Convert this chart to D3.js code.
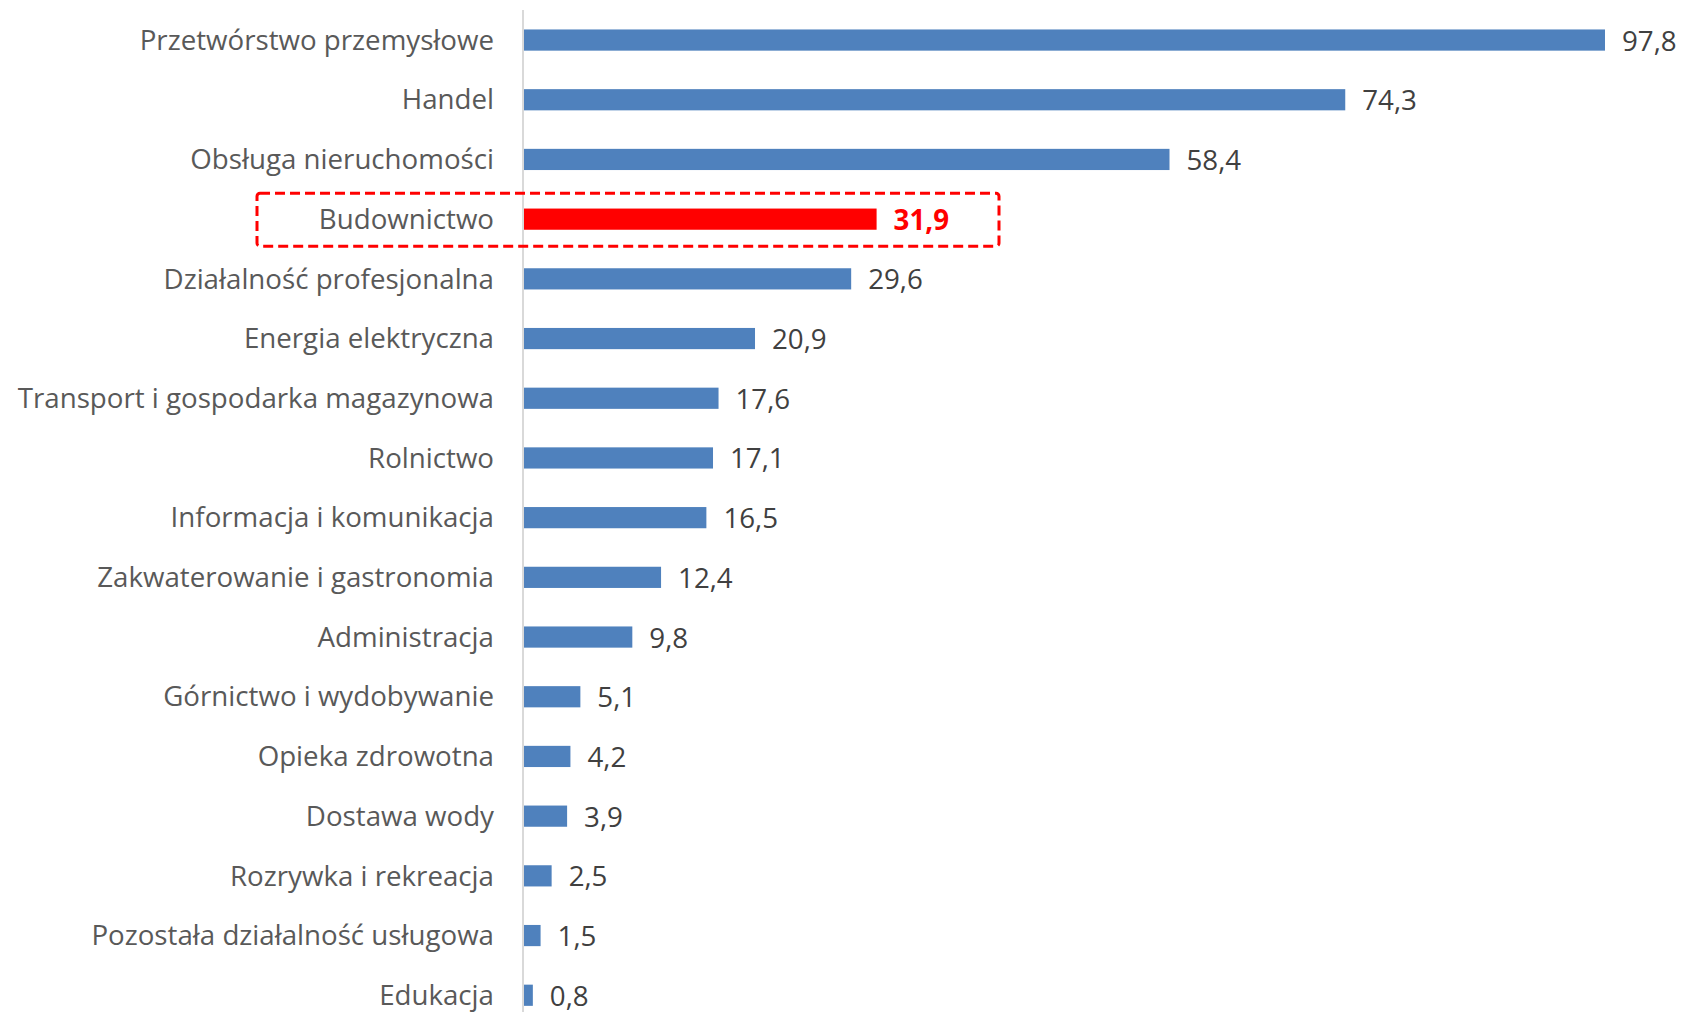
<!DOCTYPE html>
<html><head><meta charset="utf-8">
<script src="https://cdn.jsdelivr.net/npm/d3@7"></script>
<style>html,body{margin:0;padding:0;background:#fff;overflow:hidden}</style>
</head><body>
<svg id="chart" width="1683" height="1012"></svg>
<script>
const categories = ["Przetwórstwo przemysłowe","Handel","Obsługa nieruchomości","Budownictwo","Działalność profesjonalna","Energia elektryczna","Transport i gospodarka magazynowa","Rolnictwo","Informacja i komunikacja","Zakwaterowanie i gastronomia","Administracja","Górnictwo i wydobywanie","Opieka zdrowotna","Dostawa wody","Rozrywka i rekreacja","Pozostała działalność usługowa","Edukacja"];
const values = [97.8,74.3,58.4,31.9,29.6,20.9,17.6,17.1,16.5,12.4,9.8,5.1,4.2,3.9,2.5,1.5,0.8];
const highlighted = ["Budownictwo"];

const svg = d3.select("#chart");
const x0 = 524, yTop = 10.2, step = 59.7;
const x = d3.scaleLinear().domain([0, 97.8]).range([x0, 1605]);
const y = d3.scaleBand().domain(categories).range([yTop, yTop + step*categories.length]).paddingInner(0.645).paddingOuter(0.3225);
const fmt = v => d3.format(".1f")(v).replace(".", ",");
const font = "'Open Sans', 'Noto Sans', sans-serif";

svg.append("line").attr("x1", x0-1).attr("x2", x0-1).attr("y1", 10).attr("y2", 1012)
  .attr("stroke", "#d9d9d9").attr("stroke-width", 2);

const isHi = c => highlighted.includes(c);

svg.selectAll("rect.bar").data(categories).enter().append("rect").attr("class","bar")
  .attr("x", x(0)).attr("y", c => y(c)).attr("height", y.bandwidth())
  .attr("width", (c,i) => x(values[i]) - x(0))
  .attr("fill", c => isHi(c) ? "#ff0000" : "#4f81bd");

svg.selectAll("text.cat").data(categories).enter().append("text").attr("class","cat")
  .attr("x", 494).attr("y", c => y(c) + y.bandwidth()/2).attr("dy", "0.35em")
  .attr("text-anchor", "end").attr("font-family", font).attr("font-size", 27.7)
  .attr("fill", "#595959").text(c => c);

svg.selectAll("text.val").data(categories).enter().append("text").attr("class","val")
  .attr("x", (c,i) => x(values[i]) + 17).attr("y", c => y(c) + y.bandwidth()/2).attr("dy", "0.38em")
  .attr("font-family", font).attr("font-size", 27.7)
  .attr("font-weight", c => isHi(c) ? "bold" : "normal")
  .attr("fill", c => isHi(c) ? "#ff0000" : "#404040").text((c,i) => fmt(values[i]));

highlighted.forEach(c => {
  const yc = y(c) + y.bandwidth()/2;
  svg.append("rect").attr("x", 257).attr("y", yc - 26).attr("width", 742).attr("height", 53)
    .attr("rx", 3).attr("fill", "none").attr("stroke", "#ff0000").attr("stroke-width", 3)
    .attr("stroke-dasharray", "10,5");
});
</script>
</body></html>
